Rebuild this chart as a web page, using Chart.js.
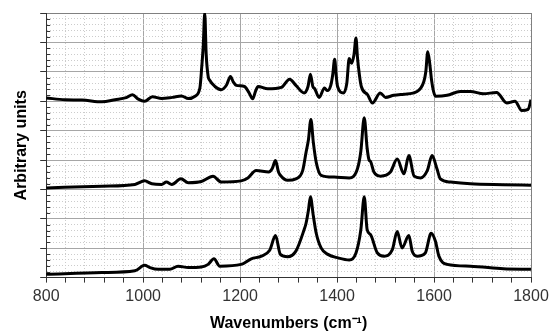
<!DOCTYPE html>
<html lang="en">
<head>
<meta charset="UTF-8">
<title>Spectra</title>
<script src="https://cdn.jsdelivr.net/npm/chart.js@4"></script>
<style>
  html, body { margin: 0; padding: 0; background: #fff; }
  .chart-container { width: 550px; height: 333px; }
</style>
</head>
<body>
<div class="chart-container"><canvas id="spectraChart"></canvas></div>
<script>
// wavenumbers (cm-1) and intensities, top / middle / bottom trace
const wnTop = [800, 839, 874, 915, 942, 965, 978, 990, 1003, 1019, 1038, 1060, 1079, 1093, 1107, 1117, 1121, 1124, 1127, 1130, 1134, 1137, 1148, 1161, 1172, 1180, 1186, 1192, 1209, 1218, 1226, 1232, 1237, 1257, 1285, 1302, 1315, 1332, 1340, 1345, 1350, 1354, 1363, 1374, 1380, 1387, 1391, 1395, 1398, 1401, 1413, 1420, 1425, 1430, 1435, 1439, 1442, 1446, 1450, 1463, 1473, 1489, 1500, 1517, 1538, 1565, 1579, 1583, 1587, 1591, 1595, 1599, 1603, 1627, 1654, 1675, 1702, 1729, 1750, 1767, 1781, 1794, 1800];
const abTop = [6.11, 6.05, 6.04, 5.98, 6.05, 6.12, 6.22, 6.07, 6.00, 6.15, 6.09, 6.13, 6.18, 6.09, 6.17, 6.45, 7.2, 7.9, 9.0, 7.6, 6.85, 6.72, 6.50, 6.39, 6.55, 6.84, 6.65, 6.54, 6.50, 6.30, 6.08, 6.35, 6.50, 6.42, 6.47, 6.75, 6.54, 6.28, 6.5, 6.92, 6.5, 6.42, 6.13, 6.45, 6.36, 6.54, 6.9, 7.43, 6.9, 6.5, 6.28, 6.6, 7.45, 7.29, 7.6, 8.15, 7.5, 6.9, 6.5, 6.22, 5.94, 6.28, 6.13, 6.20, 6.24, 6.33, 6.67, 7.0, 7.68, 7.3, 6.7, 6.33, 6.17, 6.20, 6.33, 6.33, 6.25, 6.30, 5.94, 6.00, 5.68, 5.72, 6.05];

const wnMid = [800, 915, 983, 1003, 1018, 1038, 1048, 1059, 1078, 1093, 1120, 1144, 1161, 1202, 1216, 1233, 1259, 1266, 1273, 1279, 1283, 1298, 1315, 1329, 1336, 1341, 1346, 1351, 1357, 1367, 1394, 1425, 1442, 1449, 1456, 1462, 1466, 1469, 1476, 1490, 1510, 1524, 1538, 1548, 1559, 1572, 1586, 1596, 1606, 1613, 1634, 1675, 1743, 1800];
const abMid = [3.05, 3.11, 3.17, 3.29, 3.19, 3.17, 3.25, 3.17, 3.36, 3.23, 3.27, 3.45, 3.25, 3.29, 3.39, 3.64, 3.59, 3.7, 3.98, 3.6, 3.48, 3.31, 3.36, 3.64, 4.26, 4.7, 5.38, 4.6, 3.92, 3.48, 3.42, 3.39, 3.70, 4.3, 5.44, 4.40, 4.0, 3.95, 3.59, 3.45, 3.59, 4.03, 3.53, 4.15, 3.45, 3.39, 3.64, 4.15, 3.70, 3.36, 3.25, 3.19, 3.16, 3.14];

const wnBot = [800, 915, 983, 1003, 1014, 1031, 1055, 1072, 1093, 1120, 1134, 1146, 1158, 1202, 1223, 1244, 1261, 1273, 1283, 1298, 1315, 1332, 1336, 1341, 1345, 1351, 1357, 1367, 1381, 1402, 1425, 1439, 1449, 1456, 1462, 1469, 1483, 1497, 1514, 1524, 1534, 1548, 1555, 1565, 1582, 1594, 1603, 1610, 1627, 1675, 1743, 1800];
const abBot = [0.11, 0.17, 0.23, 0.42, 0.34, 0.28, 0.28, 0.39, 0.34, 0.36, 0.45, 0.64, 0.39, 0.45, 0.64, 0.73, 0.93, 1.43, 0.79, 0.71, 0.90, 1.63, 1.85, 2.3, 2.75, 2.1, 1.51, 1.01, 0.79, 0.67, 0.60, 0.84, 1.63, 2.75, 1.63, 1.46, 0.84, 0.73, 0.95, 1.57, 1.01, 1.43, 0.90, 0.73, 0.84, 1.51, 1.23, 0.73, 0.45, 0.39, 0.30, 0.28];

const xTickLabels = [800, 1000, 1200, 1400, 1600, 1800];

const fontFamily = '"Liberation Sans", Arial, sans-serif';

function toPoints(xs, ys) {
    return xs.map((x, i) => ({ x: x, y: ys[i] }));
}

function isMajorY(v) {
    return Math.abs(v - Math.round(v)) < 1e-6;
}

// small minor ticks pointing into the plot on the left axis
const innerTicks = {
    id: 'innerTicks',
    afterDraw(chart) {
        const ctx = chart.ctx;
        const y = chart.scales.y;
        const left = chart.chartArea.left;
        ctx.save();
        ctx.strokeStyle = '#333';
        ctx.lineWidth = 1;
        y.ticks.forEach(t => {
            if (isMajorY(t.value)) return;
            const py = Math.round(y.getPixelForValue(t.value)) + 0.5;
            ctx.beginPath();
            ctx.moveTo(left, py);
            ctx.lineTo(left + 4, py);
            ctx.stroke();
        });
        ctx.restore();
    }
};

const line = { borderColor: '#000', borderWidth: 3, pointRadius: 0, fill: false, cubicInterpolationMode: 'monotone' };

new Chart(document.getElementById('spectraChart'), {
    type: 'line',
    data: {
        datasets: [
            Object.assign({ label: 'top', data: toPoints(wnTop, abTop) }, line),
            Object.assign({ label: 'middle', data: toPoints(wnMid, abMid) }, line),
            Object.assign({ label: 'bottom', data: toPoints(wnBot, abBot) }, line)
        ]
    },
    options: {
        responsive: true,
        maintainAspectRatio: false,
        animation: false,
        layout: { padding: { top: 13, right: 19, left: 8, bottom: 0 } },
        plugins: { legend: { display: false }, tooltip: { enabled: false } },
        scales: {
            x: {
                type: 'linear',
                min: 800,
                max: 1800,
                // let the last label hang into the right margin
                afterFit: s => { s.paddingRight = 0; },
                ticks: {
                    stepSize: 40,
                    autoSkip: false,
                    maxRotation: 0,
                    padding: 4,
                    color: '#333',
                    font: { family: fontFamily, size: 16 },
                    callback: v => xTickLabels.includes(v) ? v : ''
                },
                grid: {
                    color: c => {
                        if (!c.tick) return '#a0a0a0';
                        if (c.tick.value === 1800) return '#808080';
                        return c.tick.value % 200 === 0 ? '#a6a6a6' : '#cccccc';
                    },
                    tickColor: '#333',
                    tickLength: 5
                },
                border: {
                    color: '#333',
                    dash: c => (c.tick && c.tick.value % 200 !== 0) ? [1, 2] : []
                },
                title: {
                    display: true,
                    text: 'Wavenumbers (cm⁻¹)',
                    color: '#000',
                    font: { family: fontFamily, size: 16, weight: 'bold' },
                    padding: { top: 4, bottom: 0 }
                }
            },
            y: {
                min: 0,
                max: 9,
                ticks: { stepSize: 0.2, autoSkip: false, display: false },
                grid: {
                    color: c => {
                        if (!c.tick) return '#a0a0a0';
                        if (c.tick.value >= 9) return '#808080';
                        return isMajorY(c.tick.value) ? '#a6a6a6' : '#cccccc';
                    },
                    tickColor: c => (c.tick && isMajorY(c.tick.value)) ? '#333' : 'rgba(0,0,0,0)',
                    tickLength: 6
                },
                border: {
                    color: '#333',
                    dash: c => (c.tick && !isMajorY(c.tick.value)) ? [1, 2] : []
                },
                title: {
                    display: true,
                    text: 'Arbitrary units',
                    color: '#000',
                    font: { family: fontFamily, size: 16, weight: 'bold' },
                    padding: { top: 4, bottom: 9 }
                }
            }
        }
    },
    plugins: [innerTicks]
});
</script>
</body>
</html>
